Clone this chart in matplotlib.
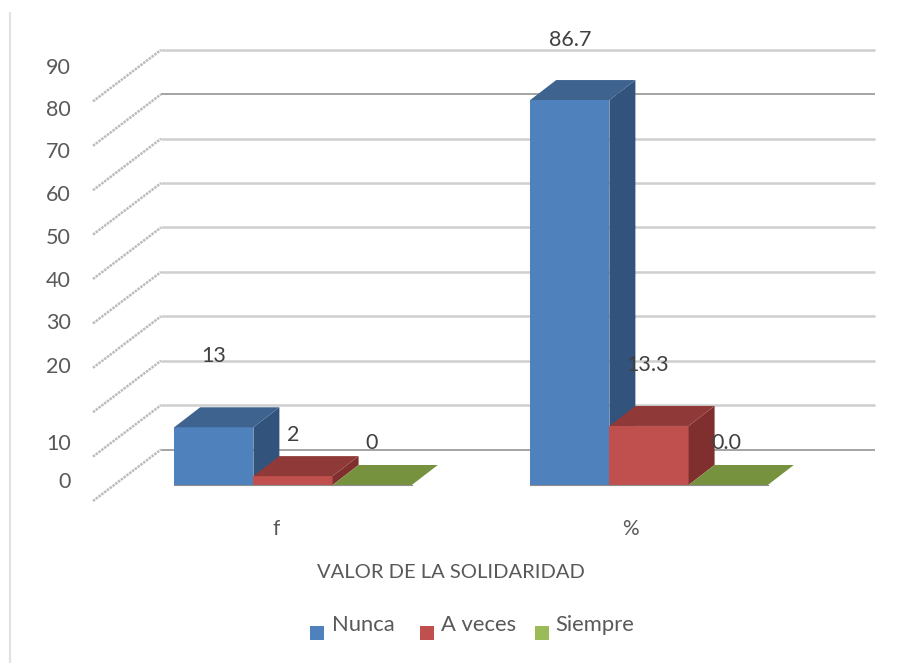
import matplotlib
matplotlib.use('Agg')
from matplotlib import pyplot as plt
from matplotlib.patches import Polygon, Rectangle

categories = ['f', '%']
series_names = ['Nunca', 'A veces', 'Siempre']
nunca = [13, 86.7]
a_veces = [2, 13.3]
siempre = [0, 0.0]
value_labels = [['13', '86.7'], ['2', '13.3'], ['0', '0.0']]
y_ticks = [0, 10, 20, 30, 40, 50, 60, 70, 80, 90]
x_title = 'VALOR DE LA SOLIDARIDAD'

# layout, in pixels of the 911x665 picture
W, H = 911, 665
PX_UNIT = 4.44      # pixels per value unit
PX_CAT = 356.0      # pixels between the two groups
FLOOR_Y = 485.0     # front base of the bars
GROUP0_X = 293.0    # middle of group f
BAR_W = 79.2 / PX_CAT
DX = 26.0 / PX_CAT  # bar depth
DY = 20.0 / PX_UNIT
WALL_Y = 449.5      # back wall, value 0
tick_y = [482, 443.5, 367, 323, 281, 238, 195, 152.5, 110, 68.5]
label_off = [[(0, 71), (0, 60)], [(0, 41), (-1, 61)], [(-1, 42), (-2, 42)]]

front_cols = ['#4F81BD', '#C0504D', '#9BBB59']
top_cols = ['#3E638F', '#8F3A39', '#77923F']
side_cols = ['#32537C', '#7F302E', '#5F7532']
dark = '#595959'

plt.rcParams['font.family'] = ['Lato', 'DejaVu Sans']

fig = plt.figure(figsize=(W / 100, H / 100), dpi=100)

# background axes in pixels: grid, ticks, legend
bg = fig.add_axes([0, 0, 1, 1])
bg.set_xlim(0, W)
bg.set_ylim(H, 0)
bg.axis('off')

bg.plot([9.5, 9.5], [13, 662], color='#e2e2e2', lw=1.5)
for v in y_ticks:
    y = WALL_Y - v * PX_UNIT
    dark_line = v in (0, 80)
    bg.plot([161, 875], [y, y], color='#8c8c8c' if dark_line else '#cfcfcf',
            lw=1.1 if dark_line else 1.8, solid_capstyle='butt')
    bg.plot([93, 161], [y + 51.5, y], color='#bcbcbc', lw=1.8,
            linestyle=(0, (1.0, 0.4)))

for v, y in zip(y_ticks, tick_y):
    bg.text(71, y, str(v), ha='right', va='center', fontsize=15.5, color=dark)

bg.text(276, 529, categories[0], ha='center', va='center', fontsize=15, color=dark)
bg.text(630.5, 529, categories[1], ha='center', va='center', fontsize=15, color=dark)
bg.text(450.5, 572, x_title, ha='center', va='center', fontsize=14.5, color=dark)

swatch_x = [310, 420, 535]
legend_x = [332.5, 441, 555.5]
for name, sx, tx, col in zip(series_names, swatch_x, legend_x, front_cols):
    bg.add_patch(Rectangle((sx, 626), 14, 14, color=col, lw=0))
    bg.text(tx, 625, name, ha='left', va='center', fontsize=15.8, color=dark)

# bars axes in data units: x = group index, y = value
ax = fig.add_axes([0, 0, 1, 1])
ax.set_xlim(-GROUP0_X / PX_CAT, (W - GROUP0_X) / PX_CAT)
ax.set_ylim((FLOOR_Y - H) / PX_UNIT, FLOOR_Y / PX_UNIT)
ax.axis('off')
ax.patch.set_alpha(0)

def draw_bar(x0, v, i):
    x1 = x0 + BAR_W
    if v > 0:
        ax.add_patch(Rectangle((x0, 0), BAR_W, v, color=front_cols[i], lw=0))
        ax.add_patch(Polygon([(x1, 0), (x1 + DX, DY), (x1 + DX, v + DY), (x1, v)],
                             closed=True, color=side_cols[i], lw=0))
    ax.add_patch(Polygon([(x0, v), (x0 + DX, v + DY), (x1 + DX, v + DY), (x1, v)],
                         closed=True, color=top_cols[i], lw=0))
    ax.plot([x0, x1], [0, 0], color='#8e8e8e', lw=0.8)

for g in range(len(categories)):
    for i, vals in enumerate([nunca, a_veces, siempre]):
        x0 = g + (i - 1.5) * BAR_W
        draw_bar(x0, vals[g], i)
        ax.annotate(value_labels[i][g], (x0 + BAR_W / 2, vals[g]),
                    xytext=label_off[i][g], textcoords='offset pixels',
                    ha='center', va='center', fontsize=15.5, color='#404040')

fig.savefig('out.png', dpi=100, facecolor='white')
